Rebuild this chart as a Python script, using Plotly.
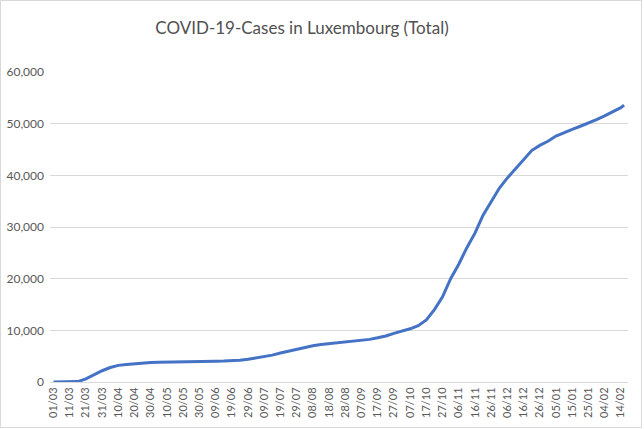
import pandas as pd
import plotly.graph_objects as go

# ---------------------------------------------------
# DATA (every 5 days from 01/03/2020)
# ---------------------------------------------------

start_date = "2020-03-01"
day_offsets = [0, 5, 10, 15, 20, 25, 30, 35, 40, 45, 50, 55, 60, 65, 70, 75,
               80, 85, 90, 95, 100, 105, 110, 115, 120, 125, 130, 135, 140, 145,
               150, 155, 160, 165, 170, 175, 180, 185, 190, 195, 200, 205, 210,
               215, 220, 225, 230, 235, 240, 245, 250, 255, 260, 265, 270, 275,
               280, 285, 290, 295, 300, 305, 310, 315, 320, 325, 330, 335, 340,
               345, 350, 352]
total_cases = [1, 3, 7, 81, 600, 1450, 2180, 2800, 3220, 3400, 3550, 3700,
               3780, 3830, 3880, 3930, 3970, 3990, 4010, 4020, 4040, 4070, 4120,
               4230, 4400, 4650, 4950, 5200, 5600, 5950, 6350, 6700, 7000, 7250,
               7400, 7550, 7700, 7900, 8050, 8250, 8550, 8900, 9400, 9800, 10300,
               10900, 12000, 14000, 16500, 20000, 22800, 26000, 28800, 32300,
               34800, 37500, 39500, 41200, 43000, 44800, 45800, 46600, 47600,
               48300, 48900, 49500, 50100, 50800, 51500, 52300, 53100, 53600]

dates = pd.to_datetime(start_date) + pd.to_timedelta(day_offsets, unit="D")

# plot area in pixels (used for the chart border shape)
PL, PR, PT, PB = 50, 628, 72, 382
W, H = 644, 429


def px_x(p):
    return (p - PL) / (PR - PL)


def px_y(p):
    return (PB - p) / (PB - PT)


fig = go.Figure()

fig.add_trace(
    go.Scatter(
        x=dates,
        y=total_cases,
        mode="lines",
        line=dict(color="#4472C4", width=3),
        hoverinfo="x+y",
    )
)

fig.update_layout(
    width=W,
    height=H,
    margin=dict(l=PL, r=W - PR, t=PT, b=H - PB),
    paper_bgcolor="white",
    plot_bgcolor="white",
    showlegend=False,
    font=dict(family="Lato, Open Sans, sans-serif", color="#595959"),
    title=dict(
        text="COVID-19-Cases in Luxembourg (Total)",
        x=302 / W,
        xanchor="center",
        y=1 - 28 / H,
        yanchor="middle",
        font=dict(size=17, color="#505050", family="Lato, Open Sans, sans-serif"),
    ),
    shapes=[
        dict(type="rect", xref="paper", yref="paper",
             x0=px_x(0.5), x1=px_x(641.5), y0=px_y(0.5), y1=px_y(427.5),
             line=dict(color="#d9d9d9", width=1), layer="below"),
    ],
)

fig.update_xaxes(
    type="date",
    range=["2020-02-27 20:00", "2021-02-18 10:00"],
    tick0=start_date,
    dtick=10 * 24 * 3600 * 1000,
    tickformat="%d/%m",
    tickangle=-90,
    tickfont=dict(size=11, color="#595959"),
    showgrid=False,
    showline=True,
    linecolor="#d9d9d9",
    zeroline=False,
    ticks="",
    automargin=False,
)

fig.update_yaxes(
    range=[0, 60000],
    dtick=10000,
    tickformat=",",
    tickfont=dict(size=12, color="#595959"),
    ticklabelstandoff=5,
    showgrid=True,
    gridcolor="#d9d9d9",
    gridwidth=1,
    zeroline=False,
    showline=False,
    ticks="",
    automargin=False,
)

# page body has a default 8px margin; drop it so the figure sits at 0,0
fig.write_html(
    "out.html",
    config={"displayModeBar": False},
    post_script="document.body.style.margin='0';",
)
